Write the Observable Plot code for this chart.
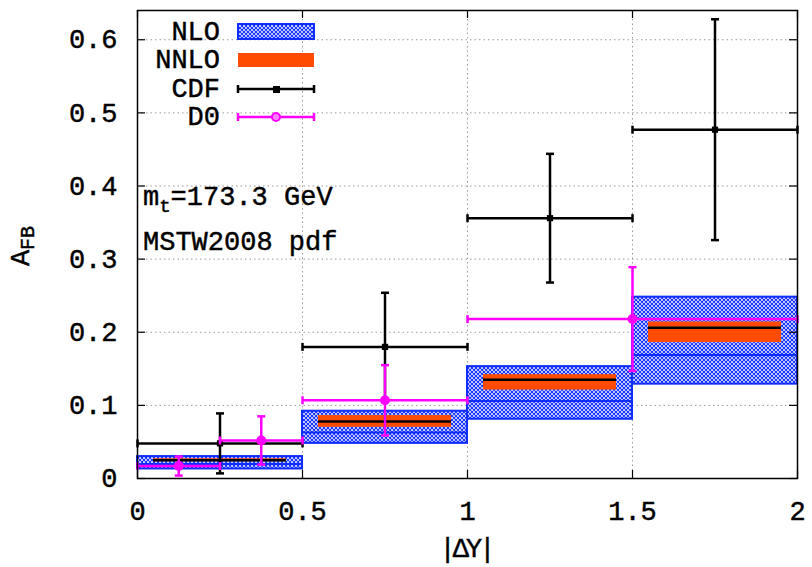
<!DOCTYPE html>
<html><head><meta charset="utf-8">
<script src="https://cdn.jsdelivr.net/npm/d3@7"></script>
<script src="https://cdn.jsdelivr.net/npm/@observablehq/plot@0.6"></script>
<style>body{margin:0;background:#fff} #chart svg text{stroke:#000;stroke-width:0.45px;paint-order:stroke}</style>
</head><body><div id="chart"></div>
<script>
// ---- data ----
const binLo = [0, 0.5, 1.0, 1.5];
const binHi = [0.5, 1.0, 1.5, 2.0];
const nloLo = [0.013, 0.048, 0.081, 0.129];
const nloHi = [0.030, 0.092, 0.153, 0.248];
const nloCentral = [0.020, 0.063, 0.106, 0.169];
const nnloLo = [0.023, 0.070, 0.121, 0.186];
const nnloHi = [0.027, 0.086, 0.142, 0.214];
const nnloCentral = [0.025, 0.078, 0.135, 0.206];
const cdfX = [0.25, 0.75, 1.25, 1.75];
const cdfXlo = [0, 0.5, 1.0, 1.5];
const cdfXhi = [0.5, 1.0, 1.5, 2.0];
const cdfY = [0.048, 0.180, 0.356, 0.477];
const cdfErr = [0.041, 0.074, 0.088, 0.151];
const d0X = [0.125, 0.375, 0.75, 1.5];
const d0Xlo = [0, 0.25, 0.5, 1.0];
const d0Xhi = [0.25, 0.5, 1.0, 2.0];
const d0Y = [0.017, 0.052, 0.107, 0.218];
const d0Err = [0.013, 0.033, 0.048, 0.071];
const xTicks = [0, 0.5, 1, 1.5, 2];
const yTicks = [0, 0.1, 0.2, 0.3, 0.4, 0.5, 0.6];
const seriesNames = ["NLO", "NNLO", "CDF", "D0"];

// ---- styles ----
const BLUE = "#0f2dff", ORANGE = "#ff4b00", MAGENTA = "#ff00ff";
const FONT = "'Liberation Mono', Cousine, 'Courier New', Courier, 'DejaVu Sans Mono', monospace";
const FW = "normal";

const nlo = binLo.map((b, i) => ({x1: b, x2: binHi[i], lo: nloLo[i], hi: nloHi[i], c: nloCentral[i]}));
const nnlo = binLo.map((b, i) => ({x1: b, x2: binHi[i], lo: nnloLo[i], hi: nnloHi[i], c: nnloCentral[i]}));
const cdf = cdfX.map((x, i) => ({x, xlo: cdfXlo[i], xhi: cdfXhi[i], y: cdfY[i], lo: cdfY[i] - cdfErr[i], hi: cdfY[i] + cdfErr[i]}));
const d0 = d0X.map((x, i) => ({x, xlo: d0Xlo[i], xhi: d0Xhi[i], y: d0Y[i], lo: d0Y[i] - d0Err[i], hi: d0Y[i] + d0Err[i]}));

const vCap = {draw(ctx, size) { const l = Math.sqrt(size / Math.PI); ctx.moveTo(0, -l); ctx.lineTo(0, l); }};
const hCap = {draw(ctx, size) { const l = Math.sqrt(size / Math.PI); ctx.moveTo(-l, 0); ctx.lineTo(l, 0); }};

function errorMarks(data, color, sw, point) {
  return [
    Plot.ruleY(data, {x1: "xlo", x2: "xhi", y: "y", stroke: color, strokeWidth: sw}),
    Plot.ruleX(data, {x: "x", y1: "lo", y2: "hi", stroke: color, strokeWidth: sw}),
    Plot.dot(data, {x: "xlo", y: "y", symbol: vCap, r: 4, fill: "none", stroke: color, strokeWidth: sw}),
    Plot.dot(data, {x: "xhi", y: "y", symbol: vCap, r: 4, fill: "none", stroke: color, strokeWidth: sw}),
    Plot.dot(data, {x: "x", y: "lo", symbol: hCap, r: 4, fill: "none", stroke: color, strokeWidth: sw}),
    Plot.dot(data, {x: "x", y: "hi", symbol: hCap, r: 4, fill: "none", stroke: color, strokeWidth: sw}),
    point
  ];
}

const fw = 660, fh = 468;
const svg = Plot.plot({
  width: 812, height: 567,
  marginLeft: 137, marginRight: 15, marginTop: 10, marginBottom: 89,
  x: {domain: [0, 2]},
  y: {domain: [0, 0.64]},
  style: {fontFamily: FONT, fontSize: "27px", color: "black", background: "white", overflow: "visible"},
  marks: [
    Plot.gridX(xTicks.slice(1, -1), {stroke: "#9a9a9a", strokeOpacity: 1, strokeDasharray: "1.5,3", strokeWidth: 1}),
    Plot.gridY(yTicks.slice(1), {stroke: "#9a9a9a", strokeOpacity: 1, strokeDasharray: "1.5,3", strokeWidth: 1}),
    Plot.rect(nlo, {x1: "x1", x2: "x2", y1: "lo", y2: "hi", fill: "url(#nloHatch)", stroke: BLUE, strokeWidth: 2, ariaLabel: "nlo-band"}),
    Plot.ruleY(nlo, {x1: "x1", x2: "x2", y: "c", stroke: BLUE, strokeWidth: 2}),
    Plot.rect(nnlo, {x1: "x1", x2: "x2", y1: "lo", y2: "hi", fill: ORANGE, insetLeft: 16, insetRight: 16}),
    Plot.ruleY(nnlo, {x1: "x1", x2: "x2", y: "c", stroke: "black", strokeWidth: 2.5, insetLeft: 16, insetRight: 16}),
    ...errorMarks(cdf, "black", 2.5, Plot.dot(cdf, {x: "x", y: "y", symbol: "square", r: 3.5, fill: "black"})),
    ...errorMarks(d0, MAGENTA, 2.5, Plot.dot(d0, {x: "x", y: "y", r: 5, fill: MAGENTA})),
    Plot.frame({stroke: "black", strokeWidth: 1.5}),
    Plot.tickY(yTicks, {y: d => d, insetRight: fw - 8, stroke: "black", strokeWidth: 1.2}),
    Plot.tickY(yTicks, {y: d => d, insetLeft: fw - 8, stroke: "black", strokeWidth: 1.2}),
    Plot.tickX(xTicks, {x: d => d, insetTop: fh - 8, stroke: "black", strokeWidth: 1.2}),
    Plot.tickX(xTicks, {x: d => d, insetBottom: fh - 8, stroke: "black", strokeWidth: 1.2}),
    Plot.axisX({ticks: xTicks, tickSize: 0, tickPadding: 22, tickFormat: d => String(d), label: null, fontSize: 27, fontWeight: FW}),
    Plot.axisY({ticks: yTicks, tickSize: 0, tickPadding: 20, tickFormat: d => String(d), label: null, fontSize: 27, fontWeight: FW})
  ]
});

const s = d3.select(svg);
s.insert("defs", ":first-child").html(
  `<pattern id="nloHatch" patternUnits="userSpaceOnUse" width="4" height="4">
     <rect width="4" height="4" fill="white"/>
     <path d="M-1,-1L5,5M5,-1L-1,5M-1,3L1,5M3,-1L5,1M3,5L5,3M-1,1L1,-1" stroke="${BLUE}" stroke-width="1.1"/>
   </pattern>`);
s.selectAll('g[aria-label="nlo-band"]').attr("fill", "url(#nloHatch)");

function txt(parent) {
  return parent.append("text").style("font-family", FONT).attr("font-size", 27).attr("font-weight", FW).attr("fill", "black");
}

// legend
const lg = s.append("g");
const baselines = [40, 68, 97, 125];
seriesNames.forEach((n, i) => txt(lg).attr("x", 220).attr("y", baselines[i]).attr("text-anchor", "end").text(n));
lg.append("rect").attr("x", 238).attr("y", 24).attr("width", 76).attr("height", 15).attr("fill", "url(#nloHatch)").attr("stroke", BLUE).attr("stroke-width", 2);
lg.append("rect").attr("x", 238).attr("y", 53).attr("width", 76).attr("height", 14).attr("fill", ORANGE);
[[89, "black"], [117, MAGENTA]].forEach(([y, c]) => {
  lg.append("path").attr("d", `M238,${y}H314M238,${y - 4}V${y + 4}M314,${y - 4}V${y + 4}`).attr("stroke", c).attr("stroke-width", 2.5).attr("fill", "none");
});
lg.append("rect").attr("x", 273).attr("y", 86).attr("width", 7).attr("height", 7).attr("fill", "black");
lg.append("circle").attr("cx", 276).attr("cy", 117).attr("r", 4).attr("fill", "#ff80ff").attr("stroke", MAGENTA).attr("stroke-width", 2);

// annotation
const t1 = txt(s).attr("x", 143).attr("y", 205).attr("text-anchor", "start");
t1.append("tspan").text("m");
t1.append("tspan").attr("dy", 7).attr("font-size", 19).text("t");
t1.append("tspan").attr("dy", -7).text("=173.3 GeV");
txt(s).attr("x", 143).attr("y", 250).attr("text-anchor", "start").text("MSTW2008 pdf");

// axis labels
const yl = txt(s).attr("transform", "translate(29,246) rotate(-90)").attr("text-anchor", "middle");
yl.append("tspan").text("A");
yl.append("tspan").attr("dy", 5).attr("font-size", 20).text("FB");
txt(s).attr("x", 466).attr("y", 557).attr("text-anchor", "middle").attr("letter-spacing", -3).text("|ΔY|");

document.getElementById("chart").appendChild(svg);
</script>
</body></html>
